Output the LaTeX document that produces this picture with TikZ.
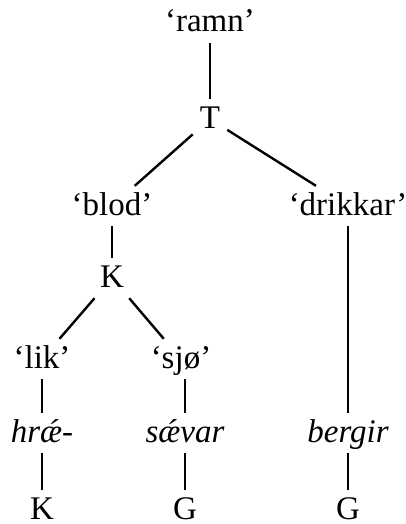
\documentclass[tikz,border=0pt]{standalone}
\usepackage{fontspec}
\setmainfont{Liberation Serif}
\usepackage{tikz}

\begin{document}
\begin{tikzpicture}[x=0.5pt,y=-0.5pt,
    every node/.style={font=\fontsize{16.5}{18}\selectfont,anchor=base,
      text height=11pt,text depth=2pt,inner xsep=3pt,inner ysep=3pt},
    every path/.style={line width=1.2pt}]
            \useasboundingbox (0,0) rectangle (406,524);
            \node (ramn) at (210,32) {‘ramn’};
            \node (t) at (210,128) {T};
            \node (blod) at (112,215) {‘blod’};
            \node (drikkar) at (348,215) {‘drikkar’};
            \node (k1) at (112,287) {K};
            \node (lik) at (42,368) {‘lik’};
            \node (sjo) at (181,368) {‘sjø’};
            \node (hrae) at (42,442) {\itshape hrǽ-};
            \node (saevar) at (185,442) {\itshape sǽvar};
            \node (bergir) at (348,442) {\itshape bergir};
            \node (k2) at (42,519) {K};
            \node (g1) at (185,519) {G};
            \node (g2) at (348,519) {G};

            \draw (ramn) -- (t);
            \draw (t) -- (blod);
            \draw (t) -- (drikkar);
            \draw (blod) -- (k1);
            \draw (k1) -- (lik);
            \draw (k1) -- (sjo);
            \draw (lik) -- (hrae);
            \draw (sjo.south -| saevar) -- (saevar);
            \draw (drikkar) -- (bergir);
            \draw (hrae) -- (k2);
            \draw (saevar) -- (g1);
            \draw (bergir) -- (g2);
        \end{tikzpicture}
\end{document}
